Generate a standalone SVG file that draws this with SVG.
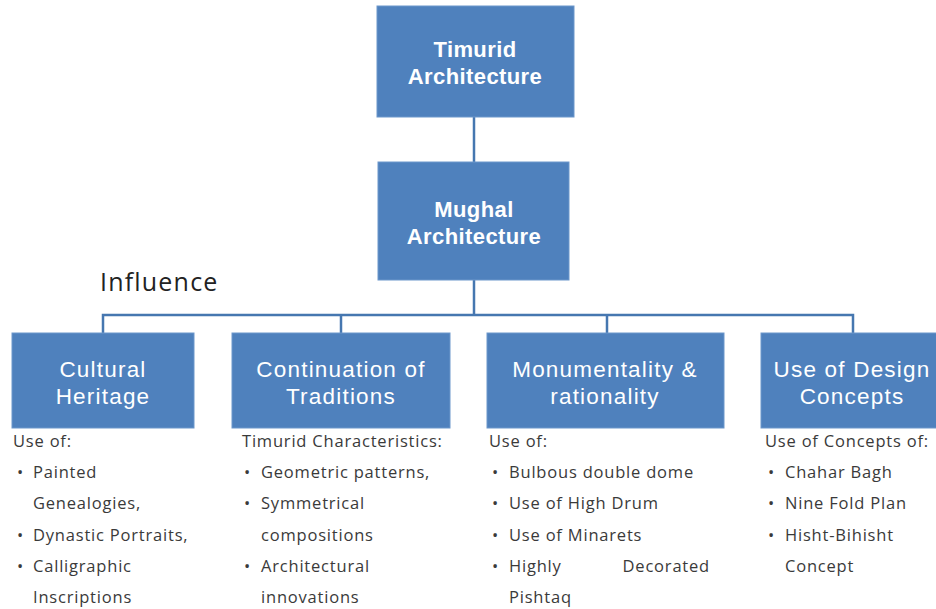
<svg xmlns="http://www.w3.org/2000/svg" width="936" height="609" viewBox="0 0 936 609">
<style>
.box{fill:#4f81bd;stroke:#6d97cb;stroke-width:1}
.conn{stroke:#4677b0;stroke-width:2.5;fill:none}
.bt{font-family:"Liberation Sans",Arial,sans-serif;font-weight:bold;font-size:22px;letter-spacing:0.4px;fill:#fff;text-anchor:middle}
.lt{font-family:"Liberation Sans",Arial,sans-serif;font-size:22.5px;letter-spacing:1.2px;fill:#fff;text-anchor:middle}
.tx{font-family:"Open Sans","Liberation Sans",sans-serif;font-size:16.5px;letter-spacing:0.8px;fill:#3a3a3a}
.inf{font-family:"Open Sans","Liberation Sans",sans-serif;font-size:25px;letter-spacing:1.2px;fill:#222}
</style>
<rect width="936" height="609" fill="#fff"/>
<g id="connectors">
<line class="conn" x1="474" y1="117" x2="474" y2="162"/>
<line class="conn" x1="474" y1="280" x2="474" y2="315"/>
<polyline class="conn" points="103,333 103,315 853,315 853,333"/>
<line class="conn" x1="341" y1="315" x2="341" y2="333"/>
<line class="conn" x1="607" y1="315" x2="607" y2="333"/>
</g>
<g id="timurid">
<rect class="box" x="377" y="6" width="197" height="111"/>
<text class="bt"><tspan x="475" y="57">Timurid</tspan><tspan x="475" y="84">Architecture</tspan></text>
</g>
<g id="mughal">
<rect class="box" x="378" y="162" width="191" height="118"/>
<text class="bt"><tspan x="474" y="217">Mughal</tspan><tspan x="474" y="244">Architecture</tspan></text>
</g>
<text class="inf" x="100" y="291">Influence</text>
<g id="cultural">
<rect class="box" x="12" y="333" width="182" height="95"/>
<text class="lt"><tspan x="103" y="377">Cultural</tspan><tspan x="103" y="404">Heritage</tspan></text>
<text class="tx" x="13" y="447">Use of:</text>
<text class="tx" x="17" y="478">•</text><text class="tx" x="33" y="478">Painted</text>
<text class="tx" x="33" y="509">Genealogies,</text>
<text class="tx" x="17" y="541">•</text><text class="tx" x="33" y="541">Dynastic Portraits,</text>
<text class="tx" x="17" y="572">•</text><text class="tx" x="33" y="572">Calligraphic</text>
<text class="tx" x="33" y="603">Inscriptions</text>
</g>
<g id="continuation">
<rect class="box" x="232" y="333" width="218" height="95"/>
<text class="lt"><tspan x="341" y="377">Continuation of</tspan><tspan x="341" y="404">Traditions</tspan></text>
<text class="tx" x="242" y="447" letter-spacing="0">Timurid Characteristics:</text>
<text class="tx" x="244" y="478">•</text><text class="tx" x="261" y="478">Geometric patterns,</text>
<text class="tx" x="244" y="509">•</text><text class="tx" x="261" y="509">Symmetrical</text>
<text class="tx" x="261" y="541">compositions</text>
<text class="tx" x="244" y="572">•</text><text class="tx" x="261" y="572">Architectural</text>
<text class="tx" x="261" y="603">innovations</text>
</g>
<g id="monumentality">
<rect class="box" x="487" y="333" width="237" height="95"/>
<text class="lt"><tspan x="605" y="377">Monumentality &amp;</tspan><tspan x="605" y="404">rationality</tspan></text>
<text class="tx" x="489" y="447">Use of:</text>
<text class="tx" x="492" y="478">•</text><text class="tx" x="509" y="478">Bulbous double dome</text>
<text class="tx" x="492" y="509">•</text><text class="tx" x="509" y="509">Use of High Drum</text>
<text class="tx" x="492" y="541">•</text><text class="tx" x="509" y="541">Use of Minarets</text>
<text class="tx" x="492" y="572">•</text><text class="tx" x="509" y="572">Highly</text><text class="tx" x="710" y="572" text-anchor="end">Decorated</text>
<text class="tx" x="509" y="603">Pishtaq</text>
</g>
<g id="design">
<rect class="box" x="761" y="333" width="180" height="95"/>
<text class="lt"><tspan x="852" y="377">Use of Design</tspan><tspan x="852" y="404">Concepts</tspan></text>
<text class="tx" x="765" y="447">Use of Concepts of:</text>
<text class="tx" x="768" y="478">•</text><text class="tx" x="785" y="478">Chahar Bagh</text>
<text class="tx" x="768" y="509">•</text><text class="tx" x="785" y="509">Nine Fold Plan</text>
<text class="tx" x="768" y="541">•</text><text class="tx" x="785" y="541">Hisht-Bihisht</text>
<text class="tx" x="785" y="572">Concept</text>
</g>
</svg>
